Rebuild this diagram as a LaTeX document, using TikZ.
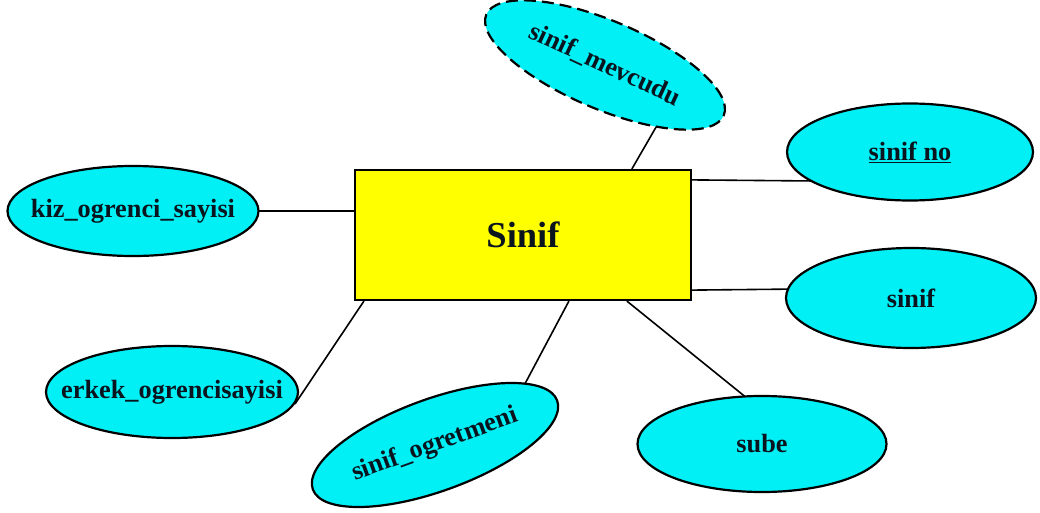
\documentclass[tikz,border=0pt]{standalone}
\usepackage{fontspec}
\setmainfont{Liberation Serif}
\usetikzlibrary{shapes.geometric,calc,backgrounds}
\definecolor{attrfill}{RGB}{0,240,245}
\definecolor{entfill}{RGB}{255,255,0}
\definecolor{txt}{RGB}{10,20,30}
\tikzset{
  attr/.style={ellipse, draw=black, line width=2.2pt, fill=attrfill, inner sep=0pt,
    font=\fontsize{26.3}{29}\selectfont\bfseries, text=txt},
  entity/.style={rectangle, draw=black, line width=2.2pt, fill=entfill, inner sep=0pt,
    minimum width=336pt, minimum height=130pt, font=\fontsize{36.5}{40}\selectfont\bfseries, text=txt},
  conn/.style={draw=black, line width=1.6pt},
  dashedattr/.style={attr, dash pattern=on 12pt off 6pt}
}
\newcommand{\zb}[1]{\makebox[0pt]{#1}}
\begin{document}
\begin{tikzpicture}[x=1pt,y=-1pt]
\useasboundingbox (0,0) rectangle (1040,513);
\node[entity] (rect) at (523,235) {Sinif};
\node[dashedattr, minimum width=258pt, minimum height=88pt, rotate=-23] (mev) at (605,65) {\zb{\rotatebox{-2}{sinif\_mevcudu}}};
\node[attr, minimum width=246pt, minimum height=97pt] (sno) at (910,152) {\zb{\underline{sinif no}}};
\node[attr, minimum width=251pt, minimum height=90pt] (kiz) at (133,211) {\zb{kiz\_ogrenci\_sayisi}};
\node[attr, minimum width=250pt, minimum height=100pt] (sinif) at (911,298) {\zb{sinif}};
\node[attr, minimum width=249pt, minimum height=96pt] (sube) at (762,444) {\zb{sube}};
\node[attr, minimum width=260pt, minimum height=92pt, rotate=20] (ogr) at (435,445) {\zb{sinif\_ogretmeni}};
\node[attr, minimum width=252pt, minimum height=92pt] (erkek) at (172,392) {\zb{erkek\_ogrencisayisi}};
\begin{scope}[on background layer]
\draw[conn] ($(rect.north west)+(278,0)$) -- ($(mev.center)+(54,57)$);
\draw[conn] ($(rect.north east)+(0,11)$) -- ($(sno.center)+(-95,29)$);
\draw[conn] ($(rect.south east)+(0,-11)$) -- ($(sinif.center)+(-110,-9)$);
\draw[conn] ($(rect.south west)+(273,0)$) -- ($(sube.center)+(-14,-45)$);
\draw[conn] ($(rect.south west)+(215,0)$) -- ($(ogr.center)+(84,-50)$);
\draw[conn] ($(rect.south west)+(10,0)$) -- ($(erkek.center)+(123,12)$);
\draw[conn] (kiz.center) -- (kiz.center -| rect.west);
\end{scope}
\end{tikzpicture}
\end{document}
